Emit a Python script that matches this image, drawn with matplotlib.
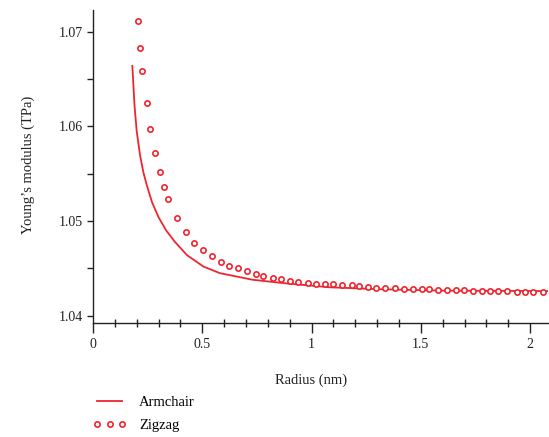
import matplotlib
matplotlib.use("Agg")
import matplotlib.pyplot as plt
from matplotlib.ticker import MultipleLocator

plt.rcParams['font.family'] = ['Liberation Serif', 'DejaVu Serif']

# Armchair (solid line)
armchair_r = [0.180, 0.190, 0.200, 0.215, 0.230, 0.246, 0.270, 0.300, 0.335, 0.375,
              0.430, 0.505, 0.580, 0.730, 0.890, 1.085, 1.310, 1.600, 2.090]
armchair_E = [1.0664, 1.0622, 1.0595, 1.0570, 1.0552, 1.0538, 1.0520, 1.0504, 1.0490, 1.0478,
              1.0464, 1.0452, 1.0445, 1.0438, 1.0434, 1.0430, 1.0428, 1.04265, 1.0426]

# Zigzag (markers)
zigzag_r = [0.207, 0.215, 0.226, 0.246, 0.262, 0.282, 0.305, 0.326, 0.345, 0.384,
            0.424, 0.464, 0.503, 0.546, 0.584, 0.622, 0.665, 0.705, 0.746, 0.779,
            0.822, 0.862, 0.903, 0.940, 0.983, 1.021, 1.062, 1.100, 1.140, 1.185,
            1.219, 1.259, 1.295, 1.336, 1.382, 1.425, 1.462, 1.504, 1.539, 1.580,
            1.618, 1.659, 1.698, 1.740, 1.779, 1.817, 1.855, 1.893, 1.939, 1.977,
            2.015, 2.057]
zigzag_E = [1.0711, 1.0683, 1.0659, 1.0625, 1.0597, 1.0572, 1.0552, 1.0536, 1.0523, 1.0503,
            1.0488, 1.0477, 1.0469, 1.0463, 1.0457, 1.0453, 1.0450, 1.0447, 1.0444, 1.0442,
            1.0440, 1.0439, 1.0437, 1.0436, 1.0435, 1.0434, 1.0433, 1.0433, 1.0432, 1.0432,
            1.0431, 1.0430, 1.0429, 1.0429, 1.0429, 1.0428, 1.0428, 1.0428, 1.0428, 1.0427,
            1.0427, 1.0427, 1.0427, 1.0426, 1.0426, 1.0426, 1.0426, 1.0426, 1.0425, 1.0425,
            1.0425, 1.0425]

xticks = [0, 0.5, 1, 1.5, 2]
xtick_labels = ["0", "0.5", "1", "1.5", "2"]
yticks = [1.04, 1.05, 1.06, 1.07]
ytick_labels = ["1.04", "1.05", "1.06", "1.07"]

red = '#ee2530'

fig = plt.figure(figsize=(5.49, 4.37), dpi=100)
W, H = 549, 437
ax = fig.add_axes([93 / W, 1 - 323 / H, (548 - 93) / W, (323 - 10) / H])

ax.plot(armchair_r, armchair_E, '-', color=red, lw=1.3, label='Armchair')
ax.plot(zigzag_r, zigzag_E, 'o', color=red, ms=3.8, mfc='white', mec=red, mew=1.2,
        linestyle='none', label='Zigzag')

ax.set_xlim(0, 2.082)
ax.set_ylim(1.03923, 1.0723)
ax.set_xticks(xticks)
ax.set_xticklabels(xtick_labels)
ax.set_yticks(yticks)
ax.set_yticklabels(ytick_labels)
ax.xaxis.set_minor_locator(MultipleLocator(0.1))
ax.yaxis.set_minor_locator(MultipleLocator(0.005))

for s in ['top', 'right']:
    ax.spines[s].set_visible(False)
for s in ['left', 'bottom']:
    ax.spines[s].set_linewidth(1.0)
    ax.spines[s].set_color('#222222')

ax.tick_params(axis='x', which='major', direction='out', length=7, width=1.0, labelsize=10,
               pad=4, colors='#222222')
ax.tick_params(axis='x', which='minor', direction='inout', length=6, width=1.0, colors='#222222')
ax.tick_params(axis='y', which='major', direction='out', length=4, width=1.0, labelsize=10,
               pad=3, colors='#222222')
ax.tick_params(axis='y', which='minor', direction='out', length=4, width=1.0, colors='#222222')

ax.set_xlabel('Radius (nm)', fontsize=10.5, color='#222222')
ax.xaxis.set_label_coords((311 - 93) / (548 - 93), -0.16)
ax.set_ylabel("Young\u2019s modulus (TPa)", fontsize=10.5, color='#222222')
ax.yaxis.set_label_coords((35 - 93) / (548 - 93), (323 - 165) / (323 - 10))

fig.legend(loc='upper left', bbox_to_anchor=(93 / W, 1 - 396 / H), frameon=False,
           fontsize=10.5, numpoints=3, handlelength=2.3, handletextpad=0.85,
           labelspacing=0.65, borderpad=0, borderaxespad=0)

fig.savefig('out.png', dpi=100)
